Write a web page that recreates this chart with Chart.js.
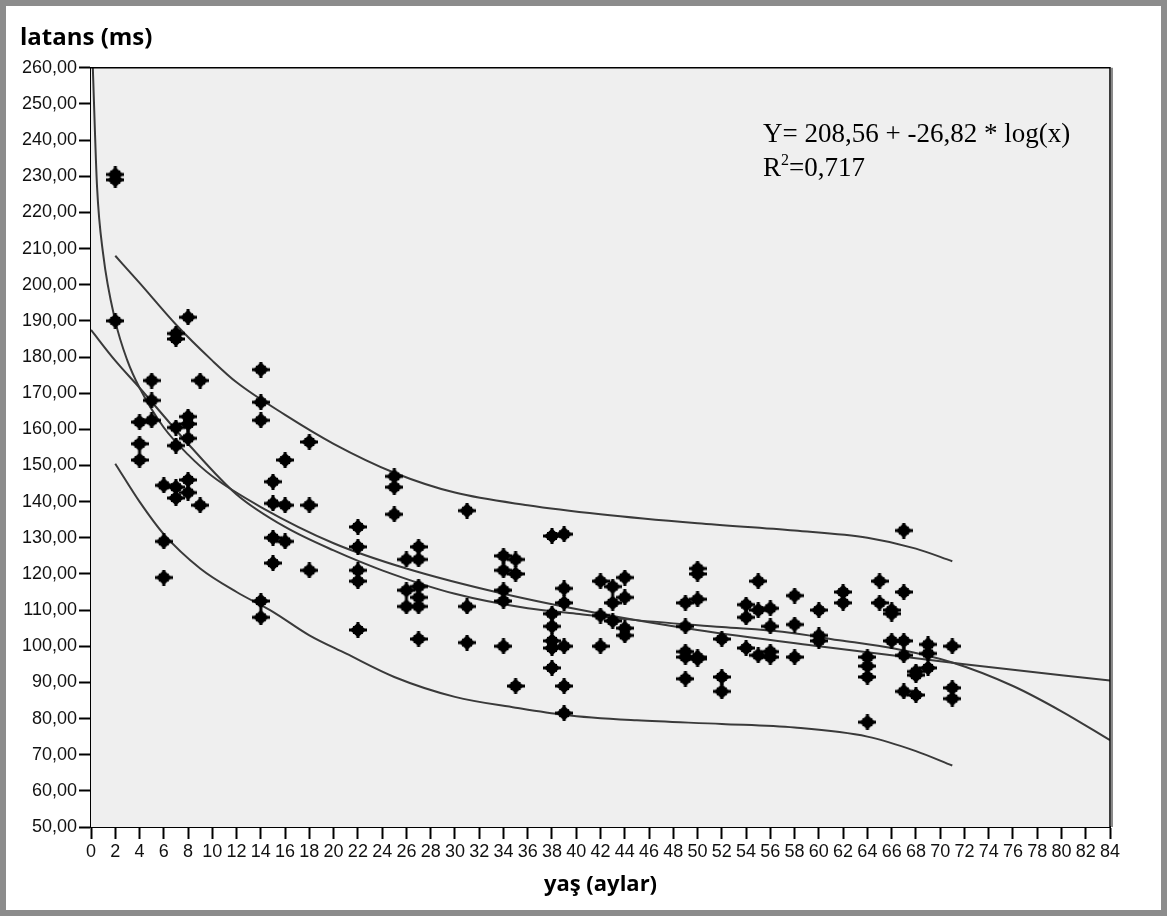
<!DOCTYPE html>
<html>
<head>
<meta charset="utf-8">
<script src="https://cdn.jsdelivr.net/npm/chart.js@4.4.1/dist/chart.umd.min.js"></script>
<style>
    html, body { margin: 0; padding: 0; background: #fff; }
    #frame { position: relative; width: 1167px; height: 916px; box-sizing: border-box; border: 6px solid #8c8c8c; background: #fff; }
    #frame canvas { display: block; }
    #eq { position: absolute; left: 757px; top: 110px; font-family: 'Liberation Serif', 'Times New Roman', serif; font-size: 27px; line-height: 34px; color: #000; }
    #eq sup { font-size: 16px; line-height: 0; vertical-align: 11px; }
</style>
</head>
<body>
<div id="frame">
    <canvas id="chart" width="1155" height="904"></canvas>
    <div id="eq">Y= 208,56 + -26,82 * log(x)<br>R<sup>2</sup>=0,717</div>
</div>
<script>
// ── DATA ──────────────────────────────────────────────────────────────────────
const ageMonths = [
    2, 2, 2,
    4, 4, 4,
    5, 5, 5,
    6, 6, 6,
    7, 7, 7, 7, 7, 7,
    8, 8, 8, 8, 8, 8,
    9, 9,
    14, 14, 14, 14, 14,
    15, 15, 15, 15,
    16, 16, 16,
    18, 18, 18,
    22, 22, 22, 22, 22,
    25, 25, 25,
    26, 26, 26,
    27, 27, 27, 27, 27, 27,
    31, 31, 31,
    34, 34, 34, 34, 34,
    35, 35, 35,
    38, 38, 38, 38, 38, 38,
    39, 39, 39, 39, 39, 39,
    42, 42, 42,
    43, 43, 43,
    44, 44, 44, 44,
    49, 49, 49, 49, 49,
    50, 50, 50, 50, 50,
    52, 52, 52,
    54, 54, 54,
    55, 55, 55,
    56, 56, 56, 56,
    58, 58, 58,
    60, 60, 60,
    62, 62,
    64, 64, 64, 64,
    65, 65,
    66, 66, 66,
    67, 67, 67, 67, 67,
    68, 68, 68,
    69, 69, 69,
    71, 71, 71
];
const latencyMs = [
    230.5, 229, 190,
    162, 156, 151.5,
    173.5, 168, 162.5,
    144.5, 129, 119,
    186.5, 185, 160.5, 155.5, 144, 141,
    191, 163.5, 161.5, 157.5, 146, 142.5,
    173.5, 139,
    176.5, 167.5, 162.5, 112.5, 108,
    145.5, 139.5, 130, 123,
    151.5, 139, 129,
    156.5, 139, 121,
    133, 127.5, 121, 118, 104.5,
    147, 144, 136.5,
    124, 115.5, 111,
    127.5, 124, 116.5, 113.5, 111, 102,
    137.5, 111, 101,
    125, 121, 115.5, 112.5, 100,
    124, 120, 89,
    130.5, 109, 105.5, 101.5, 99.5, 94,
    131, 116, 112, 100, 89, 81.5,
    118, 108.5, 100,
    116.5, 112, 107,
    119, 113.5, 105, 103,
    112, 105.5, 98.5, 97, 91,
    121.5, 120, 113, 97, 96.5,
    102, 91.5, 87.5,
    111.5, 108, 99.5,
    118, 110, 97.5,
    110.5, 105.5, 98.5, 97,
    114, 106, 97,
    110, 103, 101.5,
    115, 112,
    97, 94.5, 91.5, 79,
    118, 112,
    110, 109, 101.5,
    132, 115, 101.5, 97.5, 87.5,
    92, 93, 86.5,
    100.5, 98, 94,
    100, 88.5, 85.5
];

// log fit curve
const logFitX = [0.15, 0.5, 1, 2, 3, 4, 6, 8, 10, 14, 20, 26, 34, 42, 50, 60, 72, 84];
const logFitY = [260, 227, 208.5, 190, 179, 171.5, 160.5, 153, 147, 138.5, 128.5, 121.5, 114.5, 109, 104.5, 100, 95, 90.5];

// cubic fit curve
const cubicX = [0, 2, 4, 8, 12, 16, 20, 24, 30, 36, 40, 44, 52, 57, 62, 66, 71, 76, 80, 84];
const cubicY = [187.5, 179, 171.5, 156, 142, 133, 126.5, 121, 114.5, 110.5, 109, 107.5, 105.3, 104, 101.5, 99.5, 95.5, 89, 82, 74];

// upper / lower bands
const upperX = [2, 4, 7, 10, 12, 16, 20, 25, 30, 36, 42, 50, 58, 64, 68, 71];
const upperY = [208, 200.5, 189, 179, 173, 164, 156, 148, 142.5, 139, 136.5, 134, 132, 130, 127, 123.5];
const lowerX = [2, 4, 6, 9, 12, 15, 18, 21, 25, 30, 35, 39, 45, 52, 58, 64, 68, 71];
const lowerY = [150.5, 140, 131, 121.5, 115, 109.5, 103, 98, 91.5, 86, 83, 81, 79.5, 78.5, 77.5, 75, 71, 67];

const xMin = 0, xMax = 84, xStep = 2;
const yMin = 50, yMax = 260, yStep = 10;

// ── HELPERS ───────────────────────────────────────────────────────────────────
function toPoints(xs, ys) { return xs.map((x, i) => ({ x: x, y: ys[i] })); }

function curve(xs, ys) {
    return {
        data: toPoints(xs, ys),
        showLine: true,
        borderColor: '#3a3a3a',
        borderWidth: 2,
        pointRadius: 0,
        fill: false,
        cubicInterpolationMode: 'monotone'
    };
}

// SPSS-like marker: fat diamond with small bumps at the corners
function makeMarker() {
    const m = document.createElement('canvas');
    m.width = 18; m.height = 16;
    const c = m.getContext('2d');
    c.fillStyle = '#000';
    c.beginPath();
    c.moveTo(9, 0.5); c.lineTo(17, 8); c.lineTo(9, 15.5); c.lineTo(1, 8);
    c.closePath();
    c.fill();
    c.fillRect(0, 6.5, 18, 3);
    c.fillRect(7.5, 0, 3, 16);
    c.fillRect(4, 4, 10, 8);
    return m;
}
const marker = makeMarker();

// plot background + frame
const plotFrame = {
    id: 'plotFrame',
    beforeDatasetsDraw(chart) {
        const a = chart.chartArea, c = chart.ctx;
        c.save();
        c.fillStyle = '#efefef';
        c.fillRect(a.left, a.top, a.right - a.left, a.bottom - a.top);
        c.restore();
    },
    afterDraw(chart) {
        const a = chart.chartArea, c = chart.ctx;
        c.save();
        c.strokeStyle = '#000';
        c.lineWidth = 1.5;
        c.beginPath();
        c.moveTo(a.left, a.top);
        c.lineTo(a.right, a.top);
        c.lineTo(a.right, a.bottom);
        c.stroke();
        c.strokeStyle = '#8a8a8a';
        c.lineWidth = 2;
        c.beginPath();
        c.moveTo(a.right + 2, a.top);
        c.lineTo(a.right + 2, a.bottom);
        c.stroke();
        c.restore();
    }
};

// ── CHART ─────────────────────────────────────────────────────────────────────
const ctx = document.getElementById('chart').getContext('2d');
new Chart(ctx, {
    type: 'scatter',
    data: {
        datasets: [
            {
                data: toPoints(ageMonths, latencyMs),
                pointStyle: marker,
                pointRadius: 8,
                pointBackgroundColor: '#000',
                pointBorderColor: '#000'
            },
            curve(logFitX, logFitY),
            curve(cubicX, cubicY),
            curve(upperX, upperY),
            curve(lowerX, lowerY)
        ]
    },
    options: {
        responsive: false,
        devicePixelRatio: 1,
        animation: false,
        layout: { padding: { left: 14, right: 51, top: 0, bottom: 0 } },
        plugins: {
            legend: { display: false },
            tooltip: { enabled: false },
            title: {
                display: true,
                text: 'latans (ms)',
                align: 'start',
                color: '#000',
                font: { family: "'Open Sans', 'Liberation Sans', sans-serif", size: 24, weight: 'bold' },
                padding: { top: 18, bottom: 15 }
            }
        },
        scales: {
            x: {
                type: 'linear',
                min: xMin, max: xMax,
                afterFit(scale) { scale.height = 83; },
                border: { display: true, color: '#000', width: 2 },
                grid: { drawOnChartArea: false, drawTicks: true, tickLength: 12, tickColor: '#000', tickWidth: 2 },
                ticks: {
                    stepSize: xStep, autoSkip: false, maxRotation: 0, minRotation: 0, padding: 2,
                    color: '#111',
                    font: { family: "'Liberation Sans', Arial, sans-serif", size: 18 },
                    callback: v => String(v)
                },
                title: {
                    display: true,
                    text: 'yaş (aylar)',
                    color: '#000',
                    font: { family: "'Open Sans', 'Liberation Sans', sans-serif", size: 22, weight: 'bold' },
                    padding: { top: 0, bottom: 12 }
                }
            },
            y: {
                type: 'linear',
                min: yMin, max: yMax,
                afterFit(scale) { scale.width = 71; },
                border: { display: true, color: '#000', width: 2 },
                grid: { drawOnChartArea: false, drawTicks: true, tickLength: 12, tickColor: '#000', tickWidth: 2 },
                ticks: {
                    stepSize: yStep, padding: 2,
                    color: '#111',
                    font: { family: "'Liberation Sans', Arial, sans-serif", size: 18 },
                    callback: v => v.toFixed(2).replace('.', ',')
                }
            }
        }
    },
    plugins: [plotFrame]
});
</script>
</body>
</html>
